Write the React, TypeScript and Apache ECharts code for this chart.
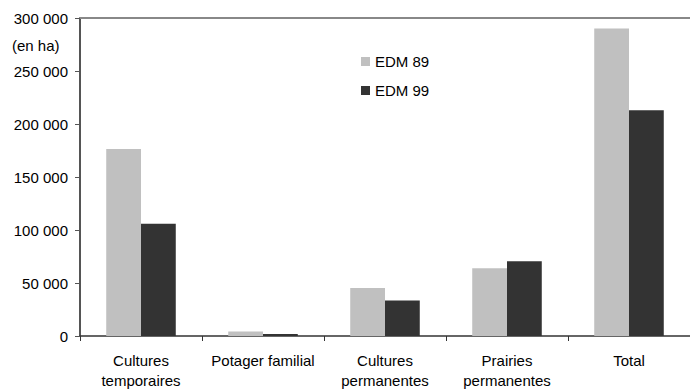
import React, { useEffect, useRef } from "react";
import * as echarts from "echarts";

const categories = [
  "Cultures\ntemporaires",
  "Potager familial",
  "Cultures\npermanentes",
  "Prairies\npermanentes",
  "Total",
];
const edm89 = [176500, 4300, 45300, 64000, 290000];
const edm99 = [106000, 2000, 33400, 70600, 213000];
const seriesNames = ["EDM 89", "EDM 99"];
const unitLabel = "(en ha)";

const FONT = "'Liberation Sans', Arial, sans-serif";

function fmt(v: number): string {
  return String(v).replace(/\B(?=(\d{3})+(?!\d))/g, " ");
}

export default function App() {
  const ref = useRef<HTMLDivElement>(null);
  useEffect(() => {
    if (!ref.current) return;
    const chart = echarts.init(ref.current, undefined, { renderer: "svg" });
    chart.setOption({
      animation: false,
      backgroundColor: "#ffffff",
      textStyle: { fontFamily: FONT },
      grid: { left: 80, top: 18, width: 614, height: 320 },
      legend: {
        left: 361,
        top: 54,
        orient: "vertical",
        itemWidth: 9,
        itemHeight: 9,
        itemGap: 14,
        padding: 0,
        icon: "rect",
        textStyle: { fontFamily: FONT, fontSize: 15, color: "#000" },
        data: seriesNames,
      },
      graphic: [
        {
          type: "text",
          left: 12,
          top: 38,
          style: { text: unitLabel, fontFamily: FONT, fontSize: 15, fill: "#000" },
        },
      ],
      xAxis: [
        {
          type: "category",
          data: categories,
          axisLine: { lineStyle: { color: "#333", width: 1.5 } },
          axisTick: { show: true, length: 5, lineStyle: { color: "#333" } },
          axisLabel: {
            fontFamily: FONT,
            fontSize: 15,
            color: "#000",
            margin: 14,
            lineHeight: 20,
            interval: 0,
          },
        },
        {
          type: "category",
          position: "top",
          data: categories,
          axisLine: { lineStyle: { color: "#888", width: 2 } },
          axisTick: { show: false },
          axisLabel: { show: false },
        },
      ],
      yAxis: {
        type: "value",
        min: 0,
        max: 300000,
        interval: 50000,
        axisLine: { show: true, lineStyle: { color: "#555", width: 2 } },
        axisTick: { show: true, length: 5, lineStyle: { color: "#555" } },
        splitLine: { show: false },
        axisLabel: {
          fontFamily: FONT,
          fontSize: 15,
          color: "#000",
          margin: 12,
          formatter: (v: number) => fmt(v),
        },
      },
      series: [
        {
          name: seriesNames[0],
          type: "bar",
          data: edm89,
          barGap: "0%",
          barCategoryGap: "43%",
          itemStyle: { color: "#c0c0c0" },
        },
        {
          name: seriesNames[1],
          type: "bar",
          data: edm99,
          barGap: "0%",
          barCategoryGap: "43%",
          itemStyle: { color: "#333333" },
        },
      ],
    });
    return () => chart.dispose();
  }, []);
  return <div ref={ref} style={{ width: 690, height: 390, position: "absolute", left: 0, top: 0 }} />;
}
